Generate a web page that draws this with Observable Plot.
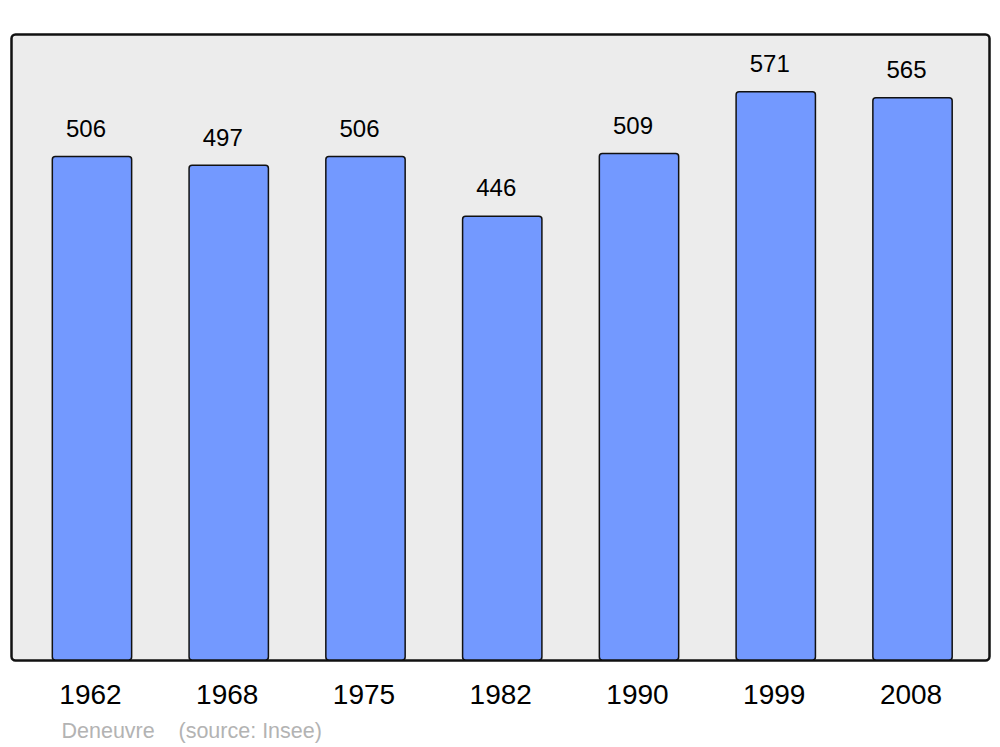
<!DOCTYPE html>
<html>
<head>
<meta charset="utf-8">
<script src="https://cdn.jsdelivr.net/npm/d3@7"></script>
<script src="https://cdn.jsdelivr.net/npm/@observablehq/plot@0.6"></script>
<style>
  html, body { margin: 0; padding: 0; background: #ffffff; }
  svg { display: block; }
</style>
</head>
<body>
<div id="chart"></div>
<script>
const years = ["1962", "1968", "1975", "1982", "1990", "1999", "2008"];
const population = [506, 497, 506, 446, 509, 571, 565];
const placeName = "Deneuvre";
const sourceText = "(source: Insee)";

const data = years.map((y, i) => ({year: y, pop: population[i]}));

const chart = Plot.plot({
  width: 1000,
  height: 747,
  marginLeft: 11,
  marginRight: 11,
  marginTop: 34,
  marginBottom: 87,
  style: {fontFamily: "'Liberation Sans', Arial, sans-serif", background: "#ffffff"},
  x: {domain: years, range: [23.6, 980.9], paddingInner: 0.42, paddingOuter: 0.21, round: false, axis: null},
  y: {domain: [0, 629], axis: null},
  marks: [
    Plot.frame({fill: "#ececec", stroke: "#111111", strokeWidth: 2.5, rx: 4}),
    Plot.barY(data, {x: "year", y: "pop", fill: "#7399ff", stroke: "#111111", strokeWidth: 1.5, rx: 3}),
    Plot.text(data, {x: "year", y: "pop", text: d => String(d.pop), dy: -28, dx: -6.5, fontSize: 24, fill: "#000000"}),
    Plot.text(data, {x: "year", text: "year", frameAnchor: "bottom", dy: 43, dx: -2, fontSize: 28, fill: "#000000"}),
    Plot.text([placeName], {frameAnchor: "bottom-left", text: d => d, textAnchor: "start", dx: 50, dy: 77.5, fontSize: 21.5, fill: "#b3b3b3"}),
    Plot.text([sourceText], {frameAnchor: "bottom-left", text: d => d, textAnchor: "start", dx: 167, dy: 77.5, fontSize: 21.5, fill: "#b3b3b3"})
  ]
});
document.getElementById("chart").appendChild(chart);
</script>
</body>
</html>
